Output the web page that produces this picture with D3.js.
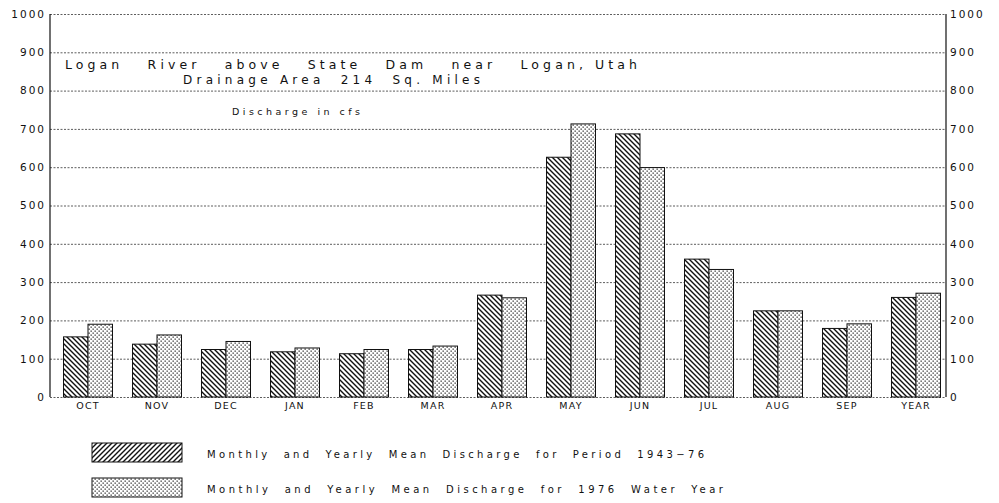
<!DOCTYPE html>
<html><head><meta charset="utf-8">
<script src="https://cdn.jsdelivr.net/npm/d3@7"></script>
<style>
html,body{margin:0;padding:0;background:#fff;}
svg{display:block;}
text{font-family:"DejaVu Sans",sans-serif;fill:#111;}
</style></head>
<body>
<svg id="chart" width="999" height="503"></svg>
<script>
const months = ["OCT","NOV","DEC","JAN","FEB","MAR","APR","MAY","JUN","JUL","AUG","SEP","YEAR"];
const meanPeriod = [157,138,124,118,113,124,266,626,687,360,225,179,260];
const mean1976 = [190,162,145,128,124,133,259,713,599,333,225,191,271];
const yTicks = [0,100,200,300,400,500,600,700,800,900,1000];
const titleLine1 = "Logan   River   above   State   Dam   near   Logan, Utah";
const titleLine2 = "Drainage Area  214  Sq. Miles";
const unitLabel = "Discharge in cfs";
const legendLabels = ["Monthly  and  Yearly  Mean  Discharge  for  Period  1943\u221276",
                      "Monthly  and  Yearly  Mean  Discharge  for  1976  Water  Year"];

const svg = d3.select("#chart");
const L = 50, R = 946, T = 14, B = 397;
const y = d3.scaleLinear().domain([0,1000]).range([B,T]);
const x = d3.scaleBand().domain(months).range([53.5,950.5]).paddingInner(0.29).paddingOuter(0.145);
const half = x.bandwidth()/2;

const defs = svg.append("defs");
const ph = defs.append("pattern").attr("id","hatch").attr("patternUnits","userSpaceOnUse")
  .attr("width",5).attr("height",5);
ph.append("rect").attr("width",5).attr("height",5).attr("fill","#fff");
ph.append("path").attr("d","M0,0L5,5M-1,4L1,6M4,-1L6,1").attr("stroke","#111").attr("stroke-width",1.4);
const phl = defs.append("pattern").attr("id","hatchL").attr("patternUnits","userSpaceOnUse")
  .attr("width",5).attr("height",5);
phl.append("rect").attr("width",5).attr("height",5).attr("fill","#fff");
phl.append("path").attr("d","M0,5L5,0M-1,1L1,-1M4,6L6,4").attr("stroke","#111").attr("stroke-width",1.4);
const pd = defs.append("pattern").attr("id","dots").attr("patternUnits","userSpaceOnUse")
  .attr("width",4).attr("height",4);
pd.append("rect").attr("width",4).attr("height",4).attr("fill","#fff");
pd.append("rect").attr("x",0.5).attr("y",0.5).attr("width",1.3).attr("height",1.3).attr("fill","#333");
pd.append("rect").attr("x",2.5).attr("y",2.5).attr("width",1.3).attr("height",1.3).attr("fill","#333");

// gridlines
const grid = svg.append("g").attr("transform",`translate(${L},0)`)
  .call(d3.axisLeft(y).tickValues(yTicks).tickSize(-(R-L)).tickFormat(""));
grid.select(".domain").remove();
grid.selectAll(".tick line").attr("stroke","#333").attr("stroke-width",0.8).attr("stroke-dasharray","2,1.5");

const fmt = d3.format("d");
// left axis labels
const lax = svg.append("g").attr("transform",`translate(${L},0)`)
  .call(d3.axisLeft(y).tickValues(yTicks).tickFormat(fmt).tickSize(0).tickPadding(4));
lax.select(".domain").remove();
lax.selectAll("text").attr("font-size",10.5).attr("letter-spacing",2).attr("fill","#222");
// right axis labels
const rax = svg.append("g").attr("transform",`translate(${R},0)`)
  .call(d3.axisRight(y).tickValues(yTicks).tickFormat(fmt).tickSize(0).tickPadding(4));
rax.select(".domain").remove();
rax.selectAll("text").attr("font-size",10.5).attr("letter-spacing",2).attr("fill","#222");

// frame verticals
svg.append("line").attr("x1",L).attr("x2",L).attr("y1",y(1000)).attr("y2",y(0)).attr("stroke","#111").attr("stroke-width",1.2);
svg.append("line").attr("x1",R).attr("x2",R).attr("y1",y(1000)).attr("y2",y(0)).attr("stroke","#111").attr("stroke-width",1.2);

// bars
const g = svg.append("g");
g.selectAll("rect.a").data(months).join("rect").attr("class","a")
  .attr("x",d=>x(d)).attr("width",half)
  .attr("y",(d,i)=>y(meanPeriod[i])).attr("height",(d,i)=>y(0)-y(meanPeriod[i]))
  .attr("fill","url(#hatch)").attr("stroke","#111").attr("stroke-width",1);
g.selectAll("rect.b").data(months).join("rect").attr("class","b")
  .attr("x",d=>x(d)+half).attr("width",half)
  .attr("y",(d,i)=>y(mean1976[i])).attr("height",(d,i)=>y(0)-y(mean1976[i]))
  .attr("fill","url(#dots)").attr("stroke","#111").attr("stroke-width",1);

// x axis labels
const xax = svg.append("g").attr("transform",`translate(0,${B})`)
  .call(d3.axisBottom(x).tickSize(0).tickPadding(5));
xax.select(".domain").remove();
xax.selectAll("text").attr("font-size",9.5).attr("font-family","DejaVu Sans Condensed, DejaVu Sans").attr("letter-spacing",1.2).attr("fill","#222");

// titles
svg.append("text").attr("x",65).attr("y",69).attr("font-size",12.5)
  .attr("textLength",572).attr("lengthAdjust","spacing")
  .style("white-space","pre").text(titleLine1);
svg.append("text").attr("x",183).attr("y",84).attr("font-size",12)
  .attr("textLength",297).attr("lengthAdjust","spacing")
  .style("white-space","pre").text(titleLine2);
svg.append("text").attr("x",232).attr("y",115).attr("font-size",9.5)
  .attr("textLength",128).attr("lengthAdjust","spacing")
  .text(unitLabel);

// legend
const fills = ["url(#hatchL)","url(#dots)"];
const ly = [443,478];
const lw = [497,516];
legendLabels.forEach((t,i)=>{
  svg.append("rect").attr("x",92).attr("y",ly[i]).attr("width",90).attr("height",19)
    .attr("fill",fills[i]).attr("stroke","#111").attr("stroke-width",1);
  svg.append("text").attr("x",207).attr("y",ly[i]+15).attr("font-size",10)
    .attr("textLength",lw[i]).attr("lengthAdjust","spacing")
    .style("white-space","pre").text(t);
});
</script>
</body></html>
